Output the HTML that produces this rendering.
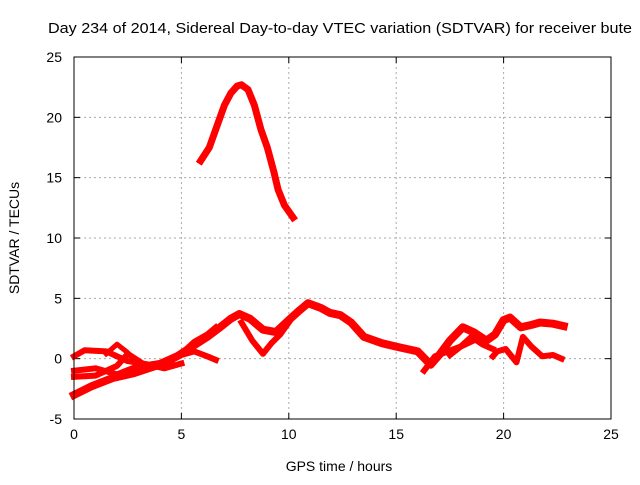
<!DOCTYPE html>
<html><head><meta charset="utf-8"><style>
body{margin:0;background:#fff}
svg text{font-family:"Liberation Sans",sans-serif;font-size:13px;fill:#000}
</style></head><body>
<svg id="chart" width="640" height="480" xmlns="http://www.w3.org/2000/svg">
<rect width="640" height="480" fill="#fff"/>
<text x="48" y="33" style="font-size:15px" textLength="584" lengthAdjust="spacingAndGlyphs">Day 234 of 2014, Sidereal Day-to-day VTEC variation (SDTVAR) for receiver bute</text>
<text x="339" y="471" text-anchor="middle" style="font-size:14px">GPS time / hours</text>
<text transform="translate(19,238) rotate(-90)" text-anchor="middle" style="font-size:14px">SDTVAR / TECUs</text>
<g id="grid"></g>
<g id="ticks"></g>
<g id="series"></g>
<rect x="74" y="57" width="537" height="362" fill="none" stroke="#000" stroke-width="1"/>
</svg>
<script>
const xTicks=[0,5,10,15,20,25];
const yTicks=[-5,0,5,10,15,20,25];
const peakT=[5.9,6.3,6.7,7.0,7.3,7.6,7.8,8.1,8.4,8.7,9.0,9.3,9.5,9.8,10.2];
const peakV=[16.4,17.5,19.5,21.0,22.0,22.6,22.7,22.3,21.0,19.0,17.5,15.5,14.0,12.7,11.7];
const mainT=[0,0.8,1.8,2.8,3.8,4.8,5.5,6.2,6.8,7.3,7.7,8.2,8.8,9.4,10.0,10.5,10.9,11.5,11.9,12.4,12.9,13.5,14.3,15.0,16.0,16.6,17.0,17.5,18.1,18.6,19.2,19.6,20.0,20.3,20.8,21.3,21.7,22.3,22.8];
const mainV=[-3.0,-2.3,-1.6,-1.2,-0.6,0.2,1.0,1.8,2.6,3.3,3.7,3.3,2.4,2.2,3.2,4.0,4.6,4.2,3.8,3.6,3.0,1.8,1.3,1.0,0.6,-0.5,0.3,1.5,2.6,2.2,1.5,2.0,3.2,3.4,2.6,2.8,3.0,2.9,2.7];
const aT=[0,0.5,1.5,2.5,3.5,4.5,5.0,5.6,6.2,6.6];
const aV=[0.2,0.7,0.6,-0.2,-0.5,-0.2,0.4,1.4,2.0,2.6];
const bT=[0,1.0,2.0,3.0,4.0,5.0,5.6,6.2,6.6];
const bV=[-1.0,-0.8,-1.3,-0.6,-0.4,0.3,0.6,0.2,-0.1];
const cT=[0,1.0,2.0,2.5,3.2,4.2,5.0];
const cV=[-1.5,-1.4,-0.6,0.4,-0.4,-0.8,-0.4];
const dT=[1.5,2.0,2.5,3.0];
const dV=[0.4,1.2,0.5,-0.5];
const eT=[7.8,8.3,8.8,9.2,9.6,10.0];
const eV=[3.0,1.5,0.4,1.3,2.0,3.0];
const fT=[16.3,16.8,17.4,18.0,18.6];
const fV=[-1.0,0.2,0.6,1.0,1.5];
const gT=[19.5,19.7,20.1,20.6,20.9,21.3,21.8,22.3,22.7];
const gV=[0.2,0.6,0.8,-0.3,1.8,1.0,0.2,0.3,0.0];
const hT=[17.5,18.0,18.5,19.0,19.5];
const hV=[0.3,1.0,1.8,1.2,0.8];
const X0=74,X1=611,Y0=419,Y1=57;
const xs=t=>X0+(t-0)/(25-0)*(X1-X0);
const ys=v=>Y0-(v+5)/(25+5)*(Y0-Y1);
const NS="http://www.w3.org/2000/svg";
const grid=document.getElementById('grid'),ticks=document.getElementById('ticks'),ser=document.getElementById('series');
function mk(tag,attrs,parent){const e=document.createElementNS(NS,tag);for(const k in attrs)e.setAttribute(k,attrs[k]);parent.appendChild(e);return e;}
xTicks.forEach(t=>{
  const x=xs(t);
  if(t>0&&t<25){const l=mk('line',{x1:x,x2:x,y1:Y1,y2:Y0,stroke:'#aaa','stroke-dasharray':'2,3'},grid);
  
  }
  mk('line',{x1:x,x2:x,y1:Y0,y2:Y0-6,stroke:'#000'},ticks);
  mk('line',{x1:x,x2:x,y1:Y1,y2:Y1+6,stroke:'#000'},ticks);
  const tx=mk('text',{x:x,y:Y0+20,'text-anchor':'middle',style:'font-size:14px'},ticks);tx.textContent=t;
  
  
});
yTicks.forEach(v=>{
  const y=ys(v);
  if(v>-5&&v<25){const l=mk('line',{x1:X0,x2:X1,y1:y,y2:y,stroke:'#aaa','stroke-dasharray':'2,3'},grid);
  
  }
  mk('line',{x1:X0,x2:X0+6,y1:y,y2:y,stroke:'#000'},ticks);
  mk('line',{x1:X1,x2:X1-6,y1:y,y2:y,stroke:'#000'},ticks);
  const tx=mk('text',{x:X0-12,y:y+5,'text-anchor':'end',style:'font-size:14px'},ticks);tx.textContent=v;
  
  
});
const all=[[peakT,peakV,7],[mainT,mainV,8],[aT,aV,6],[bT,bV,6],[cT,cV,6],[dT,dV,5],[eT,eV,6],[fT,fV,6],[gT,gV,6],[hT,hV,6]];
all.forEach(([T,V,w])=>{
  const pts=T.map((t,i)=>xs(t).toFixed(1)+','+ys(V[i]).toFixed(1)).join(' ');
  const p=mk('polyline',{points:pts,fill:'none',stroke:'#f00','stroke-width':w,'stroke-linejoin':'round','stroke-linecap':'square'},ser);
  
  
});
</script>
</body></html>
